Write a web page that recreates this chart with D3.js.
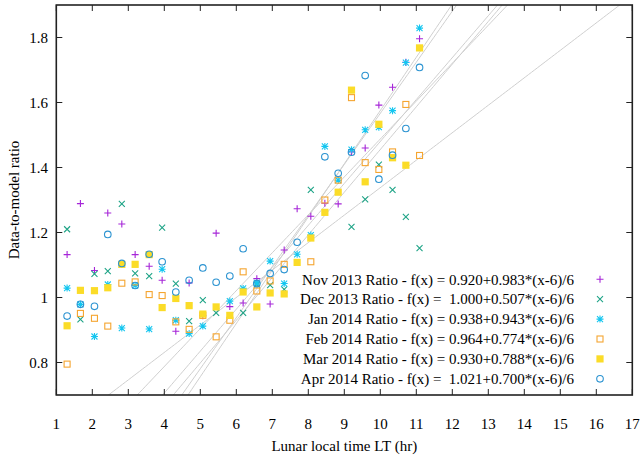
<!DOCTYPE html>
<html>
<head>
<meta charset="utf-8">
<script src="https://cdn.jsdelivr.net/npm/d3@7"></script>
<style>
  html, body { margin: 0; padding: 0; background: #fff; }
  svg text { font-family: "Liberation Serif", "DejaVu Serif", serif; fill: #000; }
</style>
</head>
<body>
<svg id="chart" width="642" height="457"></svg>
<script>
// Lunar local time (hr) sample grid shared by all months
const localTime = [1.30, 1.67, 2.06, 2.43, 2.82, 3.19, 3.58, 3.94, 4.32, 4.69, 5.07, 5.44, 5.82, 6.19,
                   6.57, 6.94, 7.33, 7.69, 8.07, 8.46, 8.83, 9.20, 9.58, 9.96, 10.34, 10.71, 11.09];

// Data-to-model ratios per month (null = no sample)
const nov2013 = [1.132, 1.289, 1.083, 1.260, 1.226, 1.132, 1.096, 1.053, 0.896, 1.045, 0.944, 1.198, 0.972, 0.983,
                 1.058, 0.980, 1.146, 1.273, 1.250, 1.290, 1.288, 1.448, 1.460, 1.592, 1.647, 1.724, 1.796];
const dec2013 = [1.210, 0.933, 1.073, 1.081, 1.288, 1.074, 1.066, 1.215, 1.043, 0.927, 0.992, 0.953, null, 0.953,
                 1.040, 1.038, 1.025, null, 1.331, null, null, 1.217, 1.302, 1.409, 1.331, 1.248, 1.152];
const jan2014 = [1.029, 0.979, 0.880, 1.040, 0.906, 1.037, 0.903, 1.087, 0.930, 0.889, 0.912, null, 0.989, 1.028,
                 1.045, 1.112, 1.043, 1.133, 1.192, 1.465, 1.361, 1.455, 1.516, 1.524, 1.575, 1.723, 1.829];
const feb2014 = [0.795, 0.951, 0.936, 0.912, 1.044, 1.048, 1.009, 1.006, 0.925, 0.902, 0.945, 0.879, 0.930, 1.079,
                 1.020, 1.051, 1.102, null, 1.110, 1.300, 1.361, 1.615, 1.415, 1.394, 1.448, 1.594, 1.437];
const mar2014 = [0.913, 1.022, 1.021, 1.030, 1.102, 1.102, 1.132, 0.969, 0.997, 0.975, 0.949, 0.971, 0.945, 1.017,
                 0.971, 1.014, 1.011, 1.108, 1.183, 1.262, 1.324, 1.638, 1.356, 1.533, 1.430, 1.407, 1.768];
const apr2014 = [0.943, 0.979, 0.973, 1.194, 1.105, 1.037, 1.133, 1.110, 1.017, 1.053, 1.091, 1.047, 1.066, 1.150,
                 1.043, 1.074, 1.086, 1.170, null, 1.433, 1.382, 1.447, 1.683, 1.364, 1.438, 1.520, 1.708];

// Linear fits f(x) = a + b*(x-6)/6
const fitA = [0.920, 1.000, 0.938, 0.964, 0.930, 1.021];
const fitB = [0.983, 0.507, 0.943, 0.774, 0.788, 0.700];

const seriesNames = ["Nov 2013", "Dec 2013", "Jan 2014", "Feb 2014", "Mar 2014", "Apr 2014"];
const seriesValues = [nov2013, dec2013, jan2014, feb2014, mar2014, apr2014];
const seriesColors = ["#a626d8", "#1fa487", "#14c6f0", "#f5a530", "#fbdc28", "#2b93d1"];
const seriesShapes = ["plus", "cross", "star", "square", "filledSquare", "circle"];

const xTicks = d3.range(1, 18, 1);
const yTicks = [0.8, 1.0, 1.2, 1.4, 1.6, 1.8];

const svg = d3.select("#chart");
const plotL = 56.3, plotR = 632.3, plotT = 5, plotB = 395;
const fontSize = 15;

const x = d3.scaleLinear().domain([1, 17]).range([plotL, plotR]);
const y = d3.scaleLinear().domain([0.7, 1.9]).range([plotB, plotT]);

svg.append("defs").append("clipPath").attr("id", "plotClip")
  .append("rect").attr("x", plotL).attr("y", plotT)
  .attr("width", plotR - plotL).attr("height", plotB - plotT);

// Fit lines, evaluated across the full x range and clipped to the plot
const lineGen = d3.line().x(d => x(d[0])).y(d => y(d[1]));
const fitLayer = svg.append("g").attr("clip-path", "url(#plotClip)");
fitA.forEach((a, i) => {
  const f = t => a + fitB[i] * (t - 6) / 6;
  const pts = d3.range(0, 201).map(k => { const t = 1 + k * 16 / 200; return [t, f(t)]; });
  fitLayer.append("path").attr("d", lineGen(pts))
    .attr("fill", "none").attr("stroke", "#cfcfcf").attr("stroke-width", 1);
});

// Marker drawing
function drawMarker(g, shape, color, cx, cy) {
  const s = 3.5;
  if (shape === "plus") {
    g.append("path").attr("d", `M${cx - s},${cy}H${cx + s}M${cx},${cy - s}V${cy + s}`)
      .attr("stroke", color).attr("stroke-width", 1.1).attr("fill", "none");
  } else if (shape === "cross") {
    const r = 3;
    g.append("path").attr("d", `M${cx - r},${cy - r}L${cx + r},${cy + r}M${cx - r},${cy + r}L${cx + r},${cy - r}`)
      .attr("stroke", color).attr("stroke-width", 1.1).attr("fill", "none");
  } else if (shape === "star") {
    const r = 3;
    g.append("path").attr("d", `M${cx - s},${cy}H${cx + s}M${cx},${cy - s}V${cy + s}` +
      `M${cx - r},${cy - r}L${cx + r},${cy + r}M${cx - r},${cy + r}L${cx + r},${cy - r}`)
      .attr("stroke", color).attr("stroke-width", 1.1).attr("fill", "none");
  } else if (shape === "square") {
    g.append("rect").attr("x", cx - 3).attr("y", cy - 3).attr("width", 6).attr("height", 6)
      .attr("stroke", color).attr("stroke-width", 1.1).attr("fill", "none");
  } else if (shape === "filledSquare") {
    g.append("rect").attr("x", cx - 3.6).attr("y", cy - 3.6).attr("width", 7.2).attr("height", 7.2)
      .attr("fill", color);
  } else if (shape === "circle") {
    g.append("circle").attr("cx", cx).attr("cy", cy).attr("r", 3.3)
      .attr("stroke", color).attr("stroke-width", 1.1).attr("fill", "none");
  }
}

const markLayer = svg.append("g");
seriesValues.forEach((vals, i) => {
  const g = markLayer.append("g");
  vals.forEach((v, k) => {
    if (v === null) return;
    drawMarker(g, seriesShapes[i], seriesColors[i], x(localTime[k]), y(v));
  });
});

// Frame and inward ticks (mirrored on top and right)
const tickLen = 6;
const axisColor = "#222";
const frame = svg.append("g");
xTicks.forEach(t => {
  frame.append("line").attr("x1", x(t)).attr("x2", x(t)).attr("y1", plotB).attr("y2", plotB - tickLen)
    .attr("stroke", axisColor).attr("stroke-width", 1);
  frame.append("line").attr("x1", x(t)).attr("x2", x(t)).attr("y1", plotT).attr("y2", plotT + tickLen)
    .attr("stroke", axisColor).attr("stroke-width", 1);
  frame.append("text").attr("x", x(t)).attr("y", 424).attr("dy", "0.35em")
    .attr("text-anchor", "middle").attr("font-size", fontSize).text(t);
});
yTicks.forEach(t => {
  frame.append("line").attr("x1", plotL).attr("x2", plotL + tickLen).attr("y1", y(t)).attr("y2", y(t))
    .attr("stroke", axisColor).attr("stroke-width", 1);
  frame.append("line").attr("x1", plotR).attr("x2", plotR - tickLen).attr("y1", y(t)).attr("y2", y(t))
    .attr("stroke", axisColor).attr("stroke-width", 1);
  frame.append("text").attr("x", 48).attr("y", y(t)).attr("dy", "0.35em")
    .attr("text-anchor", "end").attr("font-size", fontSize).text(d3.format("")(+t.toFixed(1)));
});
frame.append("rect").attr("x", plotL).attr("y", plotT).attr("width", plotR - plotL).attr("height", plotB - plotT)
  .attr("fill", "none").attr("stroke", axisColor).attr("stroke-width", 1.6);

// Axis titles
svg.append("text").attr("x", (plotL + plotR) / 2).attr("y", 446).attr("dy", "0.35em")
  .attr("text-anchor", "middle").attr("font-size", fontSize).text("Lunar local time LT (hr)");
svg.append("text").attr("transform", `translate(14,${(plotT + plotB) / 2}) rotate(-90)`)
  .attr("dy", "0.35em").attr("text-anchor", "middle").attr("font-size", fontSize).text("Data-to-model ratio");

// Legend with fit equations (intercepts of 1 or more get an extra leading space)
const legend = svg.append("g");
seriesNames.forEach((name, i) => {
  const ly = 279.3 + i * 19.9;
  const gap = fitA[i] >= 1 ? "  " : " ";
  legend.append("text").attr("x", 574).attr("y", ly).attr("dy", "0.35em")
    .attr("text-anchor", "end").attr("font-size", fontSize).style("white-space", "pre")
    .text(`${name} Ratio - f(x) =${gap}${fitA[i].toFixed(3)}+${fitB[i].toFixed(3)}*(x-6)/6`);
  drawMarker(legend, seriesShapes[i], seriesColors[i], 600, ly);
});
</script>
</body>
</html>
